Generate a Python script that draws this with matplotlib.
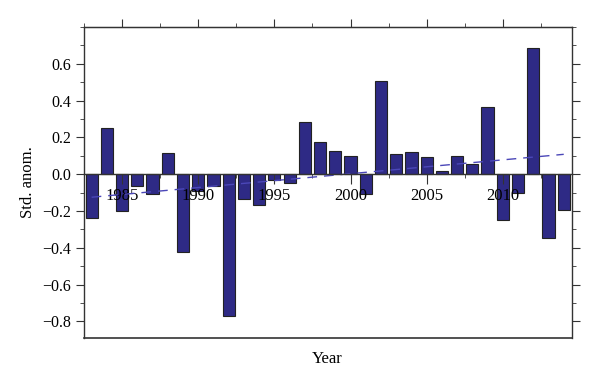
import matplotlib
matplotlib.use('Agg')
import matplotlib.pyplot as plt
from matplotlib.ticker import MultipleLocator

years = list(range(1983, 2015))
anom = [-0.24, 0.25, -0.20, -0.065, -0.105, 0.114, -0.42, -0.09, -0.063, -0.77,
        -0.135, -0.17, -0.034, -0.047, 0.283, 0.174, 0.127, 0.100, -0.105, 0.504,
        0.109, 0.118, 0.096, 0.016, 0.098, 0.053, 0.366, -0.248, -0.100, 0.684,
        -0.345, -0.197]

# trend line end points
trend_x = [1983, 2014]
trend_y = [-0.125, 0.108]

plt.rcParams['font.family'] = ['Liberation Serif', 'DejaVu Serif']
plt.rcParams['font.size'] = 11

fig = plt.figure(figsize=(6, 3.85), dpi=100)
ax = fig.add_axes([0.14, 0.122, 0.813, 0.808])
ax.set_axisbelow(False)

ax.bar(years, anom, width=0.8, color='#2e2a85', edgecolor='#222222', linewidth=0.8, zorder=2)
ax.plot(trend_x, trend_y, color='#4b47b8', linestyle=(0, (7, 5)), linewidth=1.0, zorder=3)

ax.set_xlim(1982.5, 2014.53)
ax.set_ylim(-0.89, 0.8)

frame = '#333333'
for s in ax.spines.values():
    s.set_color(frame)
    s.set_linewidth(1.0)
ax.spines['bottom'].set_position(('data', 0))
ax.spines['bottom'].set_zorder(4)
# bottom frame line
ax.plot([0, 1], [0, 0], transform=ax.transAxes, color=frame, linewidth=1.2, clip_on=False)

ax.xaxis.set_major_locator(MultipleLocator(5))
ax.xaxis.set_minor_locator(MultipleLocator(2.5))
ax.yaxis.set_major_locator(MultipleLocator(0.2))
ax.yaxis.set_minor_locator(MultipleLocator(0.1))
ax.tick_params(axis='x', which='major', direction='out', length=7, color=frame, pad=3, labelsize=12)
ax.tick_params(axis='x', which='minor', direction='out', length=3, color=frame)
ax.tick_params(axis='y', which='major', direction='out', length=6, color=frame, right=True, labelsize=11.5)
ax.tick_params(axis='y', which='minor', direction='out', length=3, color=frame, right=True)
ax.set_yticks([-0.8, -0.6, -0.4, -0.2, 0.0, 0.2, 0.4, 0.6])
ax.set_yticklabels(['\u22120.8', '\u22120.6', '\u22120.4', '\u22120.2', '0.0', '0.2', '0.4', '0.6'])

top = ax.secondary_xaxis('top')
top.xaxis.set_major_locator(MultipleLocator(5))
top.xaxis.set_minor_locator(MultipleLocator(2.5))
top.tick_params(which='major', direction='out', length=6, color=frame, labeltop=False)
top.tick_params(which='minor', direction='out', length=3, color=frame)
top.spines['top'].set_color(frame)

ax.set_ylabel('Std. anom.', fontsize=12, labelpad=4)
fig.text(0.545, 0.068, 'Year', ha='center', va='center', fontsize=12)

fig.savefig('out.png', dpi=100)
